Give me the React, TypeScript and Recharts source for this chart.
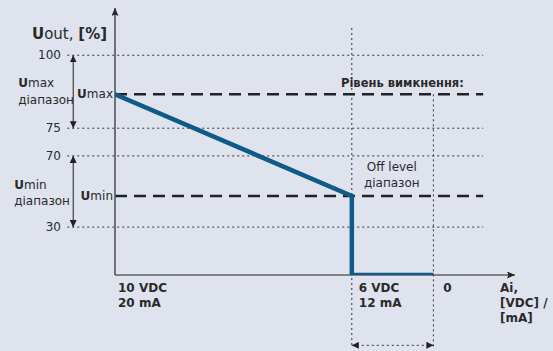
import React from "react";
import {
  LineChart,
  Line,
  XAxis,
  YAxis,
  ReferenceLine,
  ReferenceDot,
} from "recharts";

// schematic diagram units (the picture is not to scale)
const levelNames = ["100", "Umax", "75", "70", "Umin", "30"];
const levelPos = [100, 82.2, 66.8, 54.2, 36, 21.8];

const inputNames = [["10 VDC", "20 mA"], ["6 VDC", "12 mA"], ["0"]];
const inputPos = [0, 59.5, 80];

const UMAX = levelPos[1];
const UMIN = levelPos[4];
const outX = [inputPos[0], inputPos[1], inputPos[1], inputPos[2]];
const outY = [UMAX, UMIN, 0, 0];

const data = outX.map((x, i) => ({ x, out: outY[i] }));

const X_END = 100.5;
const Y_END = 121.5;
const GRID_L = -12;
const GRID_R = 92.5;
const RANGE_X = -10.5;
const BOTTOM = -32.6;

const FONT = "DejaVu Sans, Verdana, sans-serif";
const INK = "#2a2a2a";
const BG = "#dfe3ee";

const U = (rest: string) => (
  <>
    <tspan fontWeight={700}>U</tspan>
    <tspan>{rest}</tspan>
  </>
);

type NoteProps = {
  cx?: number;
  cy?: number;
  lines: React.ReactNode[];
  dx: number;
  dy: number;
  lh?: number;
  anchor?: "start" | "middle" | "end";
  bold?: boolean;
  size?: number;
};

const Note = ({ cx = 0, cy = 0, lines, dx, dy, lh = 16, anchor = "start", bold = false, size = 12 }: NoteProps) => (
  <g>
    {lines.map((l, i) => (
      <text
        key={i}
        x={cx + dx}
        y={cy + dy + i * lh}
        textAnchor={anchor}
        dominantBaseline="central"
        fontFamily={FONT}
        fontSize={size}
        fontWeight={bold ? 700 : 400}
        fill={INK}
      >
        {l}
      </text>
    ))}
  </g>
);

const note = (key: string, x: number, y: number, p: NoteProps) => (
  <ReferenceDot
    key={key}
    x={x}
    y={y}
    ifOverflow="visible"
    shape={(s: any) => <Note {...p} cx={s.cx} cy={s.cy} />}
  />
);

const YTick = ({ x, y, index }: any) => {
  const name = levelNames[index];
  if (name.startsWith("U")) {
    return (
      <text x={x - 2} y={y} textAnchor="end" dominantBaseline="central" fontFamily={FONT} fontSize={12} fill={INK}>
        {U(name.slice(1))}
      </text>
    );
  }
  return (
    <text x={x - 54} y={y} textAnchor="end" dominantBaseline="central" fontFamily={FONT} fontSize={12} fill={INK}>
      {name}
    </text>
  );
};

const XTick = ({ x, y, index }: any) => {
  const lines = inputNames[index];
  const dx = index === 0 ? 3 : index === 1 ? 7 : 14;
  return (
    <g>
      {lines.map((l, i) => (
        <text
          key={i}
          x={x + dx}
          y={y + 13 + i * 15}
          textAnchor={index === 2 ? "middle" : "start"}
          dominantBaseline="central"
          fontFamily={FONT}
          fontSize={12}
          fontWeight={700}
          fill={INK}
        >
          {l}
        </text>
      ))}
    </g>
  );
};

const dotted = { stroke: "#333", strokeWidth: 1, strokeDasharray: "2 3" };
const dashed = { stroke: "#222", strokeWidth: 2.5, strokeDasharray: "12 7" };

export default function App() {
  return (
    <div style={{ position: "absolute", left: 0, top: 0, width: 553, height: 351, background: BG }}>
      <svg width={0} height={0} style={{ position: "absolute" }}>
        <defs>
          <marker id="ah" viewBox="0 0 8 7" refX="8" refY="3.5" markerWidth="8" markerHeight="7" markerUnits="userSpaceOnUse" orient="auto-start-reverse">
            <path d="M0,0 L8,3.5 L0,7 L1.5,3.5 z" fill="#222" />
          </marker>
          <marker id="ahs" viewBox="0 0 7 7" refX="7" refY="3.5" markerWidth="7" markerHeight="7" markerUnits="userSpaceOnUse" orient="auto-start-reverse">
            <path d="M0,0 L7,3.5 L0,7 z" fill="#222" />
          </marker>
        </defs>
      </svg>
      <LineChart width={553} height={351} data={data} margin={{ top: 8, right: 40, left: 0, bottom: 0 }}>
        <XAxis
          dataKey="x"
          type="number"
          domain={[0, 100]}
          allowDataOverflow
          ticks={inputPos}
          interval={0}
          axisLine={false}
          tickLine={false}
          tickSize={0}
          tickMargin={0}
          height={76}
          tick={<XTick />}
        />
        <YAxis
          type="number"
          domain={[0, Y_END]}
          allowDataOverflow
          ticks={levelPos}
          interval={0}
          axisLine={false}
          tickLine={false}
          tickSize={0}
          tickMargin={0}
          width={115}
          tick={<YTick />}
        />

        {[0, 2, 3, 5].map((i) => (
          <ReferenceLine key={`g${i}`} segment={[{ x: GRID_L, y: levelPos[i] }, { x: GRID_R, y: levelPos[i] }]} ifOverflow="visible" {...dotted} />
        ))}
        <ReferenceLine segment={[{ x: inputPos[1], y: 112.4 }, { x: inputPos[1], y: BOTTOM }]} ifOverflow="visible" {...dotted} />
        <ReferenceLine segment={[{ x: inputPos[2], y: UMAX }, { x: inputPos[2], y: BOTTOM }]} ifOverflow="visible" {...dotted} />
        <ReferenceLine
          segment={[{ x: inputPos[1], y: BOTTOM + 0.6 }, { x: inputPos[2], y: BOTTOM + 0.6 }]}
          ifOverflow="visible"
          {...dotted}
          markerStart="url(#ahs)"
          markerEnd="url(#ahs)"
        />
        <ReferenceLine
          segment={[{ x: RANGE_X, y: levelPos[0] }, { x: RANGE_X, y: levelPos[2] }]}
          ifOverflow="visible"
          stroke="#222"
          strokeWidth={1}
          markerStart="url(#ahs)"
          markerEnd="url(#ahs)"
        />
        <ReferenceLine
          segment={[{ x: RANGE_X, y: levelPos[3] }, { x: RANGE_X, y: levelPos[5] }]}
          ifOverflow="visible"
          stroke="#222"
          strokeWidth={1}
          markerStart="url(#ahs)"
          markerEnd="url(#ahs)"
        />
        <ReferenceLine segment={[{ x: 0, y: UMAX }, { x: GRID_R, y: UMAX }]} ifOverflow="visible" {...dashed} />
        <ReferenceLine segment={[{ x: 0, y: UMIN }, { x: GRID_R, y: UMIN }]} ifOverflow="visible" {...dashed} />

        <ReferenceLine segment={[{ x: 0, y: 0 }, { x: 0, y: Y_END }]} ifOverflow="visible" stroke="#555" strokeWidth={1.6} markerEnd="url(#ah)" />
        <ReferenceLine segment={[{ x: 0, y: 0 }, { x: X_END, y: 0 }]} ifOverflow="visible" stroke="#222" strokeWidth={1.2} markerEnd="url(#ah)" />

        <Line
          dataKey="out"
          type="linear"
          stroke="#0e5a88"
          strokeWidth={4.5}
          strokeLinejoin="miter"
          dot={false}
          activeDot={false}
          isAnimationActive={false}
        />

        {note("title", 0, Y_END, {
          dx: -83,
          dy: 26,
          size: 15,
          lines: [
            <>
              <tspan fontWeight={700}>U</tspan>
              <tspan>out, </tspan>
              <tspan fontWeight={700}>[%]</tspan>
            </>,
          ],
        })}
        {note("umaxr", RANGE_X, (levelPos[0] + levelPos[2]) / 2, {
          dx: -55,
          dy: -8.5,
          lh: 17,
          lines: [U("max"), "діапазон"],
        })}
        {note("uminr", RANGE_X, (levelPos[3] + levelPos[5]) / 2, {
          dx: -59,
          dy: -6.5,
          lh: 16,
          lines: [U("min"), "діапазон"],
        })}
        {note("off", inputPos[2], UMAX, {
          dx: -31,
          dy: -11.5,
          anchor: "middle",
          bold: true,
          size: 11.5,
          lines: ["Рівень вимкнення:"],
        })}
        {note("offr", inputPos[1], UMIN, {
          dx: 40,
          dy: -29,
          lh: 16.5,
          anchor: "middle",
          lines: ["Off level", "діапазон"],
        })}
        {note("ai", X_END, 0, {
          dx: -15,
          dy: 13,
          lh: 15,
          bold: true,
          lines: ["Ai,", "[VDC] /", "[mA]"],
        })}
      </LineChart>
    </div>
  );
}
